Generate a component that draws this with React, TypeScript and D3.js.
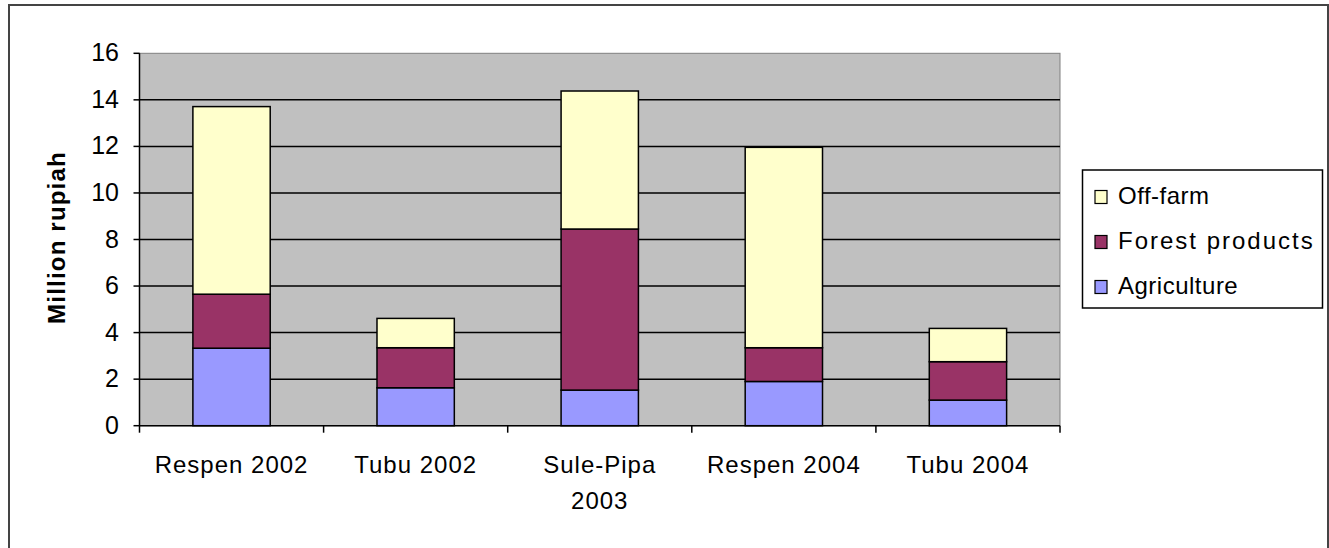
import React, { useEffect, useRef } from 'react';
import * as d3 from 'd3';

const categories = ['Respen 2002', 'Tubu 2002', 'Sule-Pipa 2003', 'Respen 2004', 'Tubu 2004'];
const categoryLines = [['Respen 2002'], ['Tubu 2002'], ['Sule-Pipa', '2003'], ['Respen 2004'], ['Tubu 2004']];
const agriculture = [3.33, 1.63, 1.53, 1.9, 1.1];
const forestProducts = [2.32, 1.72, 6.92, 1.45, 1.65];
const offFarm = [8.06, 1.26, 5.93, 8.61, 1.43];
const seriesNames = ['Agriculture', 'Forest products', 'Off-farm'];
const yTicks = [0, 2, 4, 6, 8, 10, 12, 14, 16];

const colors: Record<string, string> = {
  'Agriculture': '#9999FF',
  'Forest products': '#993366',
  'Off-farm': '#FFFFCC',
};

const W = 1329;
const H = 548;

const App: React.FC = () => {
  const ref = useRef<SVGSVGElement>(null);

  useEffect(() => {
    if (!ref.current) return;
    const svg = d3.select(ref.current);
    svg.selectAll('*').remove();

    const plot = { left: 139.5, right: 1060, top: 53.3, bottom: 425.7 };
    const font = '"Liberation Sans", Arial, sans-serif';

    // outer frame
    svg.append('rect')
      .attr('x', 9).attr('y', 5)
      .attr('width', W - 10).attr('height', H + 20)
      .attr('fill', '#fff')
      .attr('stroke', '#444')
      .attr('stroke-width', 2);

    const x = d3.scaleBand<string>()
      .domain(categories)
      .range([plot.left, plot.right])
      .paddingInner(0.58)
      .paddingOuter(0.29);

    const y = d3.scaleLinear()
      .domain([0, 16])
      .range([plot.bottom, plot.top]);

    // plot background
    svg.append('rect')
      .attr('x', plot.left).attr('y', plot.top)
      .attr('width', plot.right - plot.left)
      .attr('height', plot.bottom - plot.top)
      .attr('fill', '#C0C0C0')
      .attr('stroke', '#808080')
      .attr('stroke-width', 1);

    // gridlines
    svg.selectAll('.grid')
      .data(yTicks.filter(t => t > 0 && t < 16))
      .enter()
      .append('line')
      .attr('x1', plot.left).attr('x2', plot.right)
      .attr('y1', d => y(d)).attr('y2', d => y(d))
      .attr('stroke', '#000')
      .attr('stroke-width', 1.5);

    // stacked bars
    const rows = categories.map((c, i) => ({
      category: c,
      'Agriculture': agriculture[i],
      'Forest products': forestProducts[i],
      'Off-farm': offFarm[i],
    }));
    const stack = d3.stack<any>().keys(seriesNames)(rows);

    stack.forEach(layer => {
      svg.append('g')
        .selectAll('rect')
        .data(layer)
        .enter()
        .append('rect')
        .attr('x', d => x(d.data.category)!)
        .attr('y', d => y(d[1]))
        .attr('width', x.bandwidth())
        .attr('height', d => y(d[0]) - y(d[1]))
        .attr('fill', colors[layer.key])
        .attr('stroke', '#000')
        .attr('stroke-width', 1.5);
    });

    // y axis
    svg.append('line')
      .attr('x1', plot.left).attr('x2', plot.left)
      .attr('y1', plot.top).attr('y2', plot.bottom)
      .attr('stroke', '#000').attr('stroke-width', 1.5);

    svg.selectAll('.ytick')
      .data(yTicks)
      .enter()
      .append('line')
      .attr('x1', plot.left - 6).attr('x2', plot.left)
      .attr('y1', d => y(d)).attr('y2', d => y(d))
      .attr('stroke', '#000').attr('stroke-width', 1.5);

    svg.selectAll('.ylabel')
      .data(yTicks)
      .enter()
      .append('text')
      .attr('x', 119)
      .attr('y', d => y(d) + 8)
      .attr('text-anchor', 'end')
      .attr('font-family', font)
      .attr('font-size', 25)
      .attr('fill', '#000')
      .text(d => d);

    // x axis
    svg.append('line')
      .attr('x1', plot.left).attr('x2', plot.right)
      .attr('y1', plot.bottom).attr('y2', plot.bottom)
      .attr('stroke', '#000').attr('stroke-width', 1.5);

    const step = x.step();
    svg.selectAll('.xtick')
      .data(d3.range(categories.length + 1))
      .enter()
      .append('line')
      .attr('x1', i => plot.left + i * step).attr('x2', i => plot.left + i * step)
      .attr('y1', plot.bottom).attr('y2', plot.bottom + 7)
      .attr('stroke', '#000').attr('stroke-width', 1.5);

    categories.forEach((c, i) => {
      const t = svg.append('text')
        .attr('text-anchor', 'middle')
        .attr('font-family', font)
        .attr('font-size', 24)
        .attr('letter-spacing', 1)
        .attr('fill', '#000');
      categoryLines[i].forEach((line, j) => {
        t.append('tspan')
          .attr('x', x(c)! + x.bandwidth() / 2)
          .attr('y', plot.bottom + 47.5 + j * 36)
          .text(line);
      });
    });

    // y title
    svg.append('text')
      .attr('transform', `translate(65, 237.5) rotate(-90)`)
      .attr('text-anchor', 'middle')
      .attr('font-family', font)
      .attr('font-size', 24)
      .attr('font-weight', 'bold')
      .attr('letter-spacing', 1.2)
      .attr('fill', '#000')
      .text('Million rupiah');

    // legend
    svg.append('rect')
      .attr('x', 1082.5).attr('y', 170)
      .attr('width', 240).attr('height', 138)
      .attr('fill', '#fff')
      .attr('stroke', '#000')
      .attr('stroke-width', 1.5);

    const legendOrder = ['Off-farm', 'Forest products', 'Agriculture'];
    legendOrder.forEach((name, i) => {
      const base = 203.5 + i * 45;
      svg.append('rect')
        .attr('x', 1095).attr('y', base - 13)
        .attr('width', 12).attr('height', 13)
        .attr('fill', colors[name])
        .attr('stroke', '#000')
        .attr('stroke-width', 1.2);
      svg.append('text')
        .attr('x', 1118).attr('y', base)
        .attr('font-family', font)
        .attr('font-size', 24)
        .attr('letter-spacing', name === 'Forest products' ? 2 : 0.5)
        .attr('fill', '#000')
        .text(name);
    });
  }, []);

  return (
    <div style={{ position: 'absolute', left: 0, top: 0 }}>
      <svg ref={ref} width={W} height={H} style={{ display: 'block', background: '#fff' }} />
    </div>
  );
};

export default App;
